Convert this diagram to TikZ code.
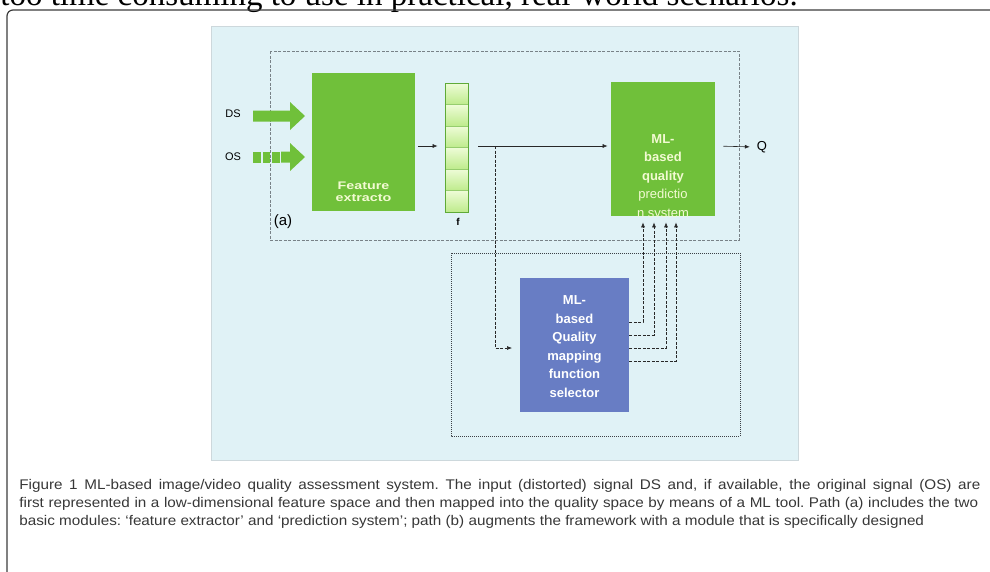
\documentclass[tikz,border=0pt]{standalone}
\usepackage{fontspec}
\setmainfont{Liberation Serif}
\newfontfamily\capfont[FakeStretch=1.09]{Liberation Sans}
\newfontfamily\boxfont{Liberation Sans}
\newfontfamily\widefont[FakeStretch=1.3]{Liberation Sans}
\usetikzlibrary{arrows.meta}

\definecolor{panelblue}{RGB}{224,242,246}
\definecolor{boxgreen}{RGB}{112,192,58}
\definecolor{boxblue}{RGB}{104,125,196}
\definecolor{boxtext}{RGB}{242,250,210}
\definecolor{captext}{RGB}{55,55,55}

\tikzset{every picture/.style={line width=0.75pt},
	conn/.style={color={rgb, 255:red, 40; green, 40; blue, 40 }, line width=0.6pt, -{Latex[length=5pt,width=4pt]}},
	dashconn/.style={conn, dash pattern={on 3pt off 1.5pt}},
	captionline/.style={anchor=base west, inner sep=0pt, text=captext, font={\capfont\fontsize{14}{18}\selectfont}}}

\begin{document}
\frenchspacing
\begin{tikzpicture}[x=1pt,y=1pt,yscale=-1,xscale=1]
\clip (0,0) rectangle (990,571);

% Text Node
\draw (0,5) node [anchor=base west][inner sep=0pt] (toptext) {\fontsize{33}{35}\selectfont too time consuming to use in practical, real-world scenarios.};

%Frame
\draw [color={rgb, 255:red, 60; green, 60; blue, 60 }, line width=1.2pt, rounded corners=6pt] (1000,10) -- (7,10) -- (7,590) ;
%Panel
\draw [color={rgb, 255:red, 205; green, 216; blue, 220 }, fill=panelblue] (211,26) rectangle (798,460) ;
%Path (a) box
\draw [color={rgb, 255:red, 120; green, 130; blue, 135 }, dash pattern={on 3pt off 1.5pt}] (270,51) rectangle (739,240) ;
%Path (b) box
\draw [color={rgb, 255:red, 60; green, 65; blue, 70 }, dash pattern={on 1pt off 1pt}] (451,253) rectangle (740,436) ;

%Input arrows
\fill [boxgreen] (253,110.5) -- (290,110.5) -- (290,102) -- (305,116) -- (290,130) -- (290,121.5) -- (253,121.5) -- cycle ;
\foreach \x in {253,262.5,272}
	\fill [boxgreen] (\x,151.5) rectangle (\x+7.5,162.5) ;
\fill [boxgreen] (281,151.5) -- (290,151.5) -- (290,143) -- (305,157) -- (290,171) -- (290,162.5) -- (281,162.5) -- cycle ;

% Text Node
\draw (233,114) node [inner sep=0.75pt, font={\boxfont\fontsize{11}{13}\selectfont}] (ds) {DS};
% Text Node
\draw (233,157) node [inner sep=0.75pt, font={\boxfont\fontsize{11}{13}\selectfont}] (os) {OS};

%Feature extractor
\draw (363.5,142) node [fill=boxgreen, minimum width=103pt, minimum height=138pt, inner sep=0pt] (feat) {};
\draw (363.5,192) node [inner sep=0.75pt, align=center, text=boxtext, font={\widefont\bfseries\fontsize{11}{11.5}\selectfont}] (feattext) {Feature\\extracto};

%Feature vector
\foreach \i in {0,...,5}
	\draw [color={rgb, 255:red, 150; green, 205; blue, 110 }, top color={rgb, 255:red, 238; green, 252; blue, 215 }, bottom color={rgb, 255:red, 190; green, 235; blue, 140 }] (445,83+\i*21.5) rectangle (468,104.5+\i*21.5) ;
\draw (456.5,147.5) node [draw={rgb, 255:red, 95; green, 170; blue, 55 }, minimum width=23pt, minimum height=129pt, inner sep=0pt] (fvec) {};
\draw (458,222) node [inner sep=0.75pt, font={\boxfont\bfseries\fontsize{10}{12}\selectfont}] (flabel) {f};
% Text Node
\draw (283,222) node [inner sep=0.75pt, font={\boxfont\fontsize{15}{17}\selectfont}] (pa) {(a)};

%Prediction system
\draw (663,149) node [fill=boxgreen, minimum width=104pt, minimum height=134pt, inner sep=0pt] (mlbox) {};
\begin{scope}
	\clip (mlbox.north west) rectangle (mlbox.south east);
	\draw (663,177) node [inner sep=0pt, align=center, text=boxtext, font={\boxfont\fontsize{13}{18.5}\selectfont}] (mltext) {\textbf{ML-}\\\textbf{based}\\\textbf{quality}\\predictio\\n system};
\end{scope}

%Selector
\draw (574.5,345) node [fill=boxblue, minimum width=109pt, minimum height=134pt, inner sep=0pt] (selbox) {};
\draw (574.5,346.5) node [inner sep=0pt, align=center, text=white, font={\boxfont\bfseries\fontsize{13}{18.6}\selectfont}] (seltext) {ML-\\based\\Quality\\mapping\\function\\selector};

% Text Node
\draw (762,147) node [inner sep=0.75pt, font={\boxfont\fontsize{13}{15}\selectfont}] (q) {Q};

\coordinate (fout) at (478,146);
\coordinate (fork) at (495,146);
\coordinate (selin) at (512,348);

%Connectors
\draw [conn] ([xshift=3pt]feat.east |- fork) -- ([xshift=-7pt]fvec.west |- fork) ;
\draw [conn, -] (fout) -- (fork) ;
\draw [conn, shorten >=3pt] (fork) -- (mlbox.west |- fork) ;
\draw [conn, shorten <=8pt, shorten >=6pt] (mlbox.east |- fork) -- (q.west) ;
\draw [dashconn] (fork) |- (selin) ;
\foreach \x/\y in {643/322,654/335,666/348,676/361}
	\draw [dashconn, shorten >=6pt] (selbox.east |- 0,\y) -| (mlbox.south -| \x,0) ;

%Caption
\draw (19,489) node [captionline] (capa) {\makebox[961pt][s]{Figure 1 ML-based image/video quality assessment system. The input (distorted) signal DS and, if available, the original signal (OS) are}};
\draw (19,507) node [captionline] (capb) {\makebox[959pt][s]{first represented in a low-dimensional feature space and then mapped into the quality space by means of a ML tool. Path (a) includes the two}};
\draw (19,525) node [captionline] (capc) {basic modules: ‘feature extractor’ and ‘prediction system’; path (b) augments the framework with a module that is specifically designed};

\end{tikzpicture}
\end{document}
